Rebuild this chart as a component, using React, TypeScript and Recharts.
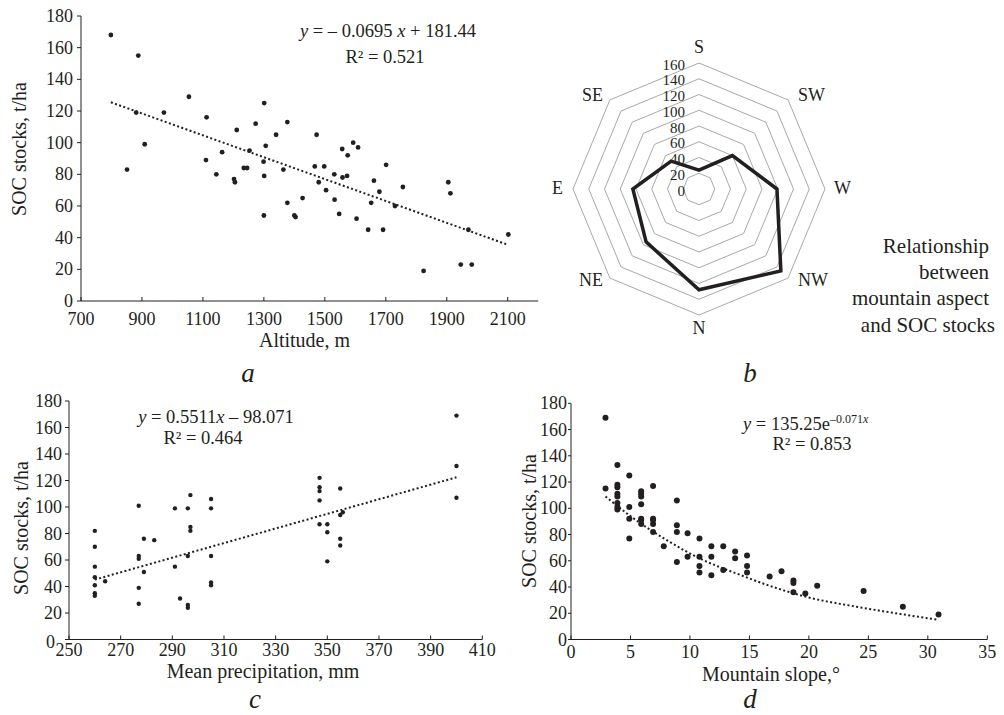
import React from 'react';
import {
  ComposedChart, Scatter, Line, XAxis, YAxis,
  RadarChart, Radar, PolarGrid, PolarAngleAxis, PolarRadiusAxis,
} from 'recharts';

const FONT = '"Liberation Serif", "Times New Roman", Times, serif';
const INK = '#231f20';

// ---------- Panel a: altitude vs SOC stocks ----------
const altitudeM = [798, 888, 851, 881, 909, 972, 1054, 1112, 1110, 1144, 1163, 1202, 1205, 1211, 1234, 1245, 1253, 1273, 1299, 1301, 1301, 1306, 1300, 1340, 1364, 1377, 1377, 1400, 1404, 1427, 1467, 1473, 1480, 1498, 1504, 1531, 1532, 1547, 1557, 1558, 1573, 1575, 1593, 1604, 1609, 1642, 1652, 1661, 1679, 1691, 1701, 1730, 1756, 1824, 1905, 1912, 1946, 1971, 1982, 2102];
const socByAltitude = [168, 155, 83, 119, 99, 119, 129, 116, 89, 80, 94, 77, 75, 108, 84, 84, 95, 112, 88, 79, 125, 98, 54, 105, 83, 113, 62, 54, 53, 65, 85, 105, 75, 85, 70, 80, 64, 55, 96, 78, 79, 92, 100, 52, 97, 45, 62, 76, 69, 45, 86, 60, 72, 19, 75, 68, 23, 45, 23, 42];
const altitudeTrendX = [798, 2102];
const altitudeTrendY = [125.5, 35.4];
const altitudeTicks = [700, 900, 1100, 1300, 1500, 1700, 1900, 2100];
const socTicks = [0, 20, 40, 60, 80, 100, 120, 140, 160, 180];

// ---------- Panel b: aspect radar ----------
const aspects = ['S', 'SW', 'W', 'NW', 'N', 'NE', 'E', 'SE'];
const socByAspect = [24, 60, 99, 147, 128, 95, 84, 50];
const aspectTicks = [0, 20, 40, 60, 80, 100, 120, 140, 160];

// ---------- Panel c: precipitation vs SOC stocks ----------
const precipMm = [260, 260, 260, 260, 260, 260, 260, 264, 277, 277, 277, 277, 277, 279, 279, 283, 291, 291, 293, 297, 296, 297, 297, 296, 296, 296, 305, 305, 305, 305, 305, 347, 347, 347, 347, 347, 350, 350, 350, 355, 355, 356, 355, 355, 400, 400, 400];
const socByPrecip = [82, 70, 55, 47, 41, 35, 33, 44, 101, 63, 61, 39, 27, 76, 51, 75, 99, 55, 31, 109, 99, 85, 82, 63, 26, 24, 106, 99, 63, 43, 41, 122, 115, 112, 105, 87, 87, 81, 59, 114, 94, 96, 76, 71, 169, 131, 107];
const precipTrendX = [260, 400];
const precipTrendY = [45.2, 122.4];
const precipTicks = [250, 270, 290, 310, 330, 350, 370, 390, 410];

// ---------- Panel d: slope vs SOC stocks ----------
const slopeDeg = [2.9, 2.9, 3.9, 3.9, 3.9, 3.9, 3.9, 3.9, 3.9, 3.9, 4.9, 4.9, 4.9, 4.9, 5.9, 5.9, 5.9, 5.9, 5.9, 5.9, 5.9, 6.9, 6.9, 6.9, 6.9, 6.9, 7.8, 8.9, 8.9, 8.9, 8.9, 9.8, 9.8, 10.8, 10.8, 10.8, 10.8, 11.8, 11.8, 11.8, 12.8, 12.8, 13.8, 13.8, 14.8, 14.8, 14.8, 16.7, 17.7, 18.7, 18.7, 18.7, 19.7, 20.7, 24.6, 27.9, 30.9];
const socBySlope = [169, 115, 133, 118, 116, 111, 109, 104, 101, 99, 125, 101, 92, 77, 113, 111, 109, 103, 92, 91, 88, 117, 92, 91, 88, 82, 71, 106, 87, 82, 59, 81, 63, 77, 63, 56, 51, 71, 63, 49, 71, 53, 67, 62, 64, 56, 51, 48, 52, 45, 43, 36, 35, 41, 37, 25, 19];
const slopeTrendX = [2.9, 5, 8, 11, 14, 17, 20, 24, 28, 30.9];
const slopeTrendY = [109, 94, 76, 61, 50, 40, 32, 25, 19, 15];
const slopeTicks = [0, 5, 10, 15, 20, 25, 30, 35];

const zip = (xs: number[], ys: number[]) => xs.map((x, i) => ({ x, y: ys[i] }));

const makeXTick = (gap: number) => (props: any) => {
  const { x, y, payload } = props;
  return (
    <g>
      <line x1={x} x2={x} y1={y} y2={y - 4} stroke={INK} strokeWidth={1} />
      <text x={x} y={y + gap} textAnchor="middle" fontSize={18} fontFamily={FONT} fill={INK}>
        {payload.value}
      </text>
    </g>
  );
};

const makeYTick = (zeroDx: number, zeroDy: number) => (props: any) => {
  const { x, y, payload } = props;
  const isZero = payload.value === 0;
  return (
    <text
      x={x + (isZero ? zeroDx : 0)} y={y + (isZero ? zeroDy : 0)}
      textAnchor="end" dominantBaseline="central" fontSize={18} fontFamily={FONT} fill={INK}
    >
      {payload.value}
    </text>
  );
};

const makeDot = (r: number) => (p: any) => <circle cx={p.cx} cy={p.cy} r={r} fill={INK} />;

type PanelProps = {
  left: number; top: number; width: number; height: number;
  margin: { top: number; right: number; bottom: number; left: number };
  yWidth: number; xHeight: number; xDomain: [number, number]; xTicks: number[];
  points: { x: number; y: number }[]; trend: { x: number; y: number }[];
  r: number; gap: number; ySize: number; yMargin: number; curve: 'linear' | 'monotone';
  zeroDx: number; zeroDy: number;
};

function ScatterPanel(p: PanelProps) {
  return (
    <div style={{ position: 'absolute', left: p.left, top: p.top }}>
      <ComposedChart width={p.width} height={p.height} margin={p.margin}>
        <XAxis
          type="number" dataKey="x" domain={p.xDomain} ticks={p.xTicks} height={p.xHeight}
          axisLine={{ stroke: INK }} tickLine={false} tickSize={0} tickMargin={0}
          tick={makeXTick(p.gap)} interval={0} allowDataOverflow
        />
        <YAxis
          type="number" dataKey="y" domain={[0, 180]} ticks={socTicks} width={p.yWidth}
          axisLine={{ stroke: INK }} tickLine={{ stroke: INK }} tickSize={p.ySize} tickMargin={p.yMargin}
          tick={makeYTick(p.zeroDx, p.zeroDy)} interval={0} allowDataOverflow
        />
        <Line
          data={p.trend} dataKey="y" type={p.curve} dot={false} activeDot={false}
          stroke={INK} strokeWidth={2} strokeDasharray="2 2.4" isAnimationActive={false}
        />
        <Scatter data={p.points} dataKey="y" shape={makeDot(p.r)} isAnimationActive={false} />
      </ComposedChart>
    </div>
  );
}

const RCX = 159;
const RCY = 189;
const RR = 126;

const AngleTick = (props: any) => {
  const { x, y, payload } = props;
  const d = Math.hypot(x - RCX, y - RCY) || 1;
  const ux = (x - RCX) / d;
  const uy = (y - RCY) / d;
  const vx = RCX + ux * RR;
  const vy = RCY + uy * RR;
  let anchor: 'start' | 'middle' | 'end' = 'middle';
  let tx = vx;
  let ty = vy;
  if (Math.abs(ux) < 0.1) {
    ty = vy + (uy < 0 ? -16 : 13);
  } else if (Math.abs(uy) < 0.1) {
    anchor = ux > 0 ? 'start' : 'end';
    tx = vx + (ux > 0 ? 9 : -10);
    ty = vy - 1;
  } else {
    anchor = ux > 0 ? 'start' : 'end';
    tx = vx + (ux > 0 ? 10 : -7);
    ty = vy + (uy < 0 ? -5 : 2);
  }
  return (
    <text x={tx} y={ty} textAnchor={anchor} dominantBaseline="central" fontSize={18} fontFamily={FONT} fill={INK}>
      {payload.value}
    </text>
  );
};

const RadiusTick = (props: any) => {
  const { x, y, payload } = props;
  return (
    <text x={x - 14} y={y + 1.5} textAnchor="end" dominantBaseline="central" fontSize={15} fontFamily={FONT} fill={INK}>
      {payload.value}
    </text>
  );
};

export default function App() {
  const radarData = aspects.map((a, i) => ({ aspect: a, soc: socByAspect[i] }));
  const serif = { fontFamily: FONT, fill: INK } as const;
  return (
    <div style={{ position: 'absolute', left: 0, top: 0, width: 1004, height: 715, background: '#fff', overflow: 'hidden' }}>
      <ScatterPanel
        left={0} top={0} width={560} height={340}
        margin={{ top: 16, right: 21.8, bottom: 0, left: 0 }}
        yWidth={81} xHeight={39} xDomain={[700, 2200]} xTicks={altitudeTicks}
        points={zip(altitudeM, socByAltitude)} trend={zip(altitudeTrendX, altitudeTrendY)}
        r={2.4} gap={24} ySize={4} yMargin={4} curve="linear" zeroDx={0} zeroDy={0}
      />
      <ScatterPanel
        left={0} top={380} width={500} height={300}
        margin={{ top: 21, right: 17.7, bottom: 0, left: 0 }}
        yWidth={69} xHeight={40.5} xDomain={[250, 410]} xTicks={precipTicks}
        points={zip(precipMm, socByPrecip)} trend={zip(precipTrendX, precipTrendY)}
        r={2.2} gap={16} ySize={4} yMargin={3} curve="linear" zeroDx={-7} zeroDy={2}
      />
      <ScatterPanel
        left={500} top={380} width={504} height={300}
        margin={{ top: 23.3, right: 16.7, bottom: 0, left: 0 }}
        yWidth={71} xHeight={40.5} xDomain={[0, 35]} xTicks={slopeTicks}
        points={zip(slopeDeg, socBySlope)} trend={zip(slopeTrendX, slopeTrendY)}
        r={3} gap={18} ySize={3} yMargin={1} curve="monotone" zeroDx={0} zeroDy={0}
      />
      <div style={{ position: 'absolute', left: 540, top: 0 }}>
        <RadarChart
          width={460} height={390} data={radarData} cx={RCX} cy={RCY} outerRadius={RR}
          startAngle={90} endAngle={-270} margin={{ top: 0, right: 0, bottom: 0, left: 0 }}
        >
          <PolarGrid gridType="polygon" radialLines={false} stroke="#a7a9ac" strokeWidth={1} />
          <PolarAngleAxis dataKey="aspect" tick={AngleTick} axisLine={false} tickLine={false} tickSize={0} />
          <PolarRadiusAxis
            angle={90} domain={[0, 160]} ticks={aspectTicks} tickCount={9}
            axisLine={false} tickLine={false} tick={RadiusTick}
          />
          <Radar
            dataKey="soc" stroke={INK} strokeWidth={3.5} fill="none" fillOpacity={0}
            dot={false} isAnimationActive={false} strokeLinejoin="miter"
          />
        </RadarChart>
      </div>
      <svg width={1004} height={715} style={{ position: 'absolute', left: 0, top: 0, pointerEvents: 'none' }}>
        {/* panel a */}
        <text transform="translate(26,149) rotate(-90)" textAnchor="middle" fontSize={20} {...serif}>SOC stocks, t/ha</text>
        <text x={304.5} y={346.7} textAnchor="middle" fontSize={20} {...serif}>Altitude, m</text>
        <text x={388} y={36.7} textAnchor="middle" fontSize={18.5} {...serif}>
          <tspan fontStyle="italic">y</tspan> = – 0.0695  <tspan fontStyle="italic">x</tspan> + 181.44
        </text>
        <text x={385} y={63.3} textAnchor="middle" fontSize={18.5} {...serif}>R² = 0.521</text>
        <text x={248} y={382} textAnchor="middle" fontSize={27} fontStyle="italic" {...serif}>a</text>

        {/* panel b */}
        <text x={750} y={382} textAnchor="middle" fontSize={27} fontStyle="italic" {...serif}>b</text>
        <text x={989} y={253} textAnchor="end" fontSize={21} {...serif}>Relationship</text>
        <text x={989} y={279} textAnchor="end" fontSize={21} {...serif}>between</text>
        <text x={989} y={305} textAnchor="end" fontSize={21} {...serif}>mountain aspect</text>
        <text x={995} y={332} textAnchor="end" fontSize={21} {...serif}>and SOC stocks</text>

        {/* panel c */}
        <text transform="translate(28,528) rotate(-90)" textAnchor="middle" fontSize={20} {...serif}>SOC stocks, t/ha</text>
        <text x={263} y={678} textAnchor="middle" fontSize={20} {...serif}>Mean precipitation, mm</text>
        <text x={216} y={423} textAnchor="middle" fontSize={18.5} {...serif}>
          <tspan fontStyle="italic">y</tspan> = 0.5511<tspan fontStyle="italic">x</tspan> – 98.071
        </text>
        <text x={203} y={444} textAnchor="middle" fontSize={18.5} {...serif}>R² = 0.464</text>
        <text x={255} y={708} textAnchor="middle" fontSize={27} fontStyle="italic" {...serif}>c</text>

        {/* panel d */}
        <text transform="translate(536,521) rotate(-90)" textAnchor="middle" fontSize={20} {...serif}>SOC stocks, t/ha</text>
        <text x={771} y={681} textAnchor="middle" fontSize={20} {...serif}>Mountain slope,°</text>
        <text x={743} y={430} textAnchor="start" fontSize={18.5} {...serif}>
          <tspan fontStyle="italic">y</tspan> = 135.25e<tspan dy={-7} fontSize={12}>–0.071</tspan><tspan fontSize={12} fontStyle="italic">x</tspan>
        </text>
        <text x={812} y={450} textAnchor="middle" fontSize={18.5} {...serif}>R² = 0.853</text>
        <text x={750} y={708} textAnchor="middle" fontSize={27} fontStyle="italic" {...serif}>d</text>
      </svg>
    </div>
  );
}
